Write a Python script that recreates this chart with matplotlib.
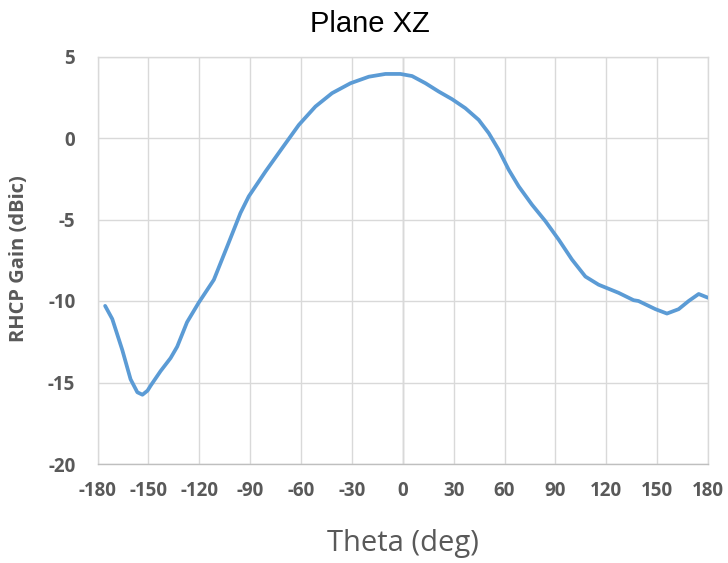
import matplotlib
matplotlib.use("Agg")
import matplotlib.pyplot as plt

plt.rcParams["axes.unicode_minus"] = False

theta = [-175.5, -171.3, -165.4, -160.5, -156.5, -153.5, -150.5, -148.7, -142.8,
         -136.9, -133.0, -127.2, -120.3, -111.4, -103.5, -95.7, -90.8, -80.9,
         -71.1, -61.3, -51.5, -41.7, -30.8, -20.0, -10.2, -1.4, 5.5, 13.4, 21.2,
         29.1, 36.9, 44.8, 50.7, 56.6, 62.5, 68.4, 76.2, 84.1, 92.0, 99.8, 107.7,
         115.5, 127.3, 136.1, 139.0, 143.0, 149.0, 155.8, 162.7, 168.6, 174.5, 180.0]
gain = [-10.3, -11.1, -13.0, -14.8, -15.6, -15.75, -15.5, -15.2, -14.3,
        -13.5, -12.8, -11.3, -10.1, -8.7, -6.65, -4.6, -3.58, -2.05,
        -0.62, 0.8, 1.93, 2.75, 3.36, 3.76, 3.93, 3.93, 3.8, 3.36, 2.85,
        2.38, 1.83, 1.11, 0.3, -0.73, -1.95, -2.97, -4.09, -5.1, -6.24, -7.46, -8.5,
        -9.0, -9.5, -9.95, -10.0, -10.2, -10.5, -10.77, -10.5, -10.0, -9.57, -9.8]

xticks = list(range(-180, 181, 30))
yticks = list(range(-20, 6, 5))

W, H = 728, 563
fig = plt.figure(figsize=(W / 100, H / 100), dpi=100)
ax = fig.add_axes([97.5 / W, 1 - 464 / H, (708 - 97.5) / W, (464 - 56.5) / H])

ax.plot(theta, gain, color="#5B9BD5", linewidth=2.7, solid_capstyle="round",
        solid_joinstyle="round", zorder=3)

ax.set_xlim(-180, 180)
ax.set_ylim(-20, 5)
ax.set_xticks(xticks)
ax.set_yticks(yticks)
ax.grid(True, color="#D9D9D9", linewidth=1.0, zorder=0)
ax.axvline(0, color="#BFBFBF", linewidth=1.0, zorder=1)
for s in ["left", "top", "right"]:
    ax.spines[s].set_color("#D9D9D9")
    ax.spines[s].set_linewidth(1.0)
ax.spines["bottom"].set_color("#BFBFBF")
ax.spines["bottom"].set_linewidth(1.0)
ax.tick_params(length=0, labelcolor="#595959")
ax.tick_params(axis="x", pad=12)
ax.tick_params(axis="y", pad=16)
for lab in ax.get_xticklabels() + ax.get_yticklabels():
    lab.set_fontfamily("Open Sans")
    lab.set_fontweight("bold")
    lab.set_fontsize(13.5)

fig.text(403 / W, 1 - 544 / H, "Theta (deg)", fontfamily="Open Sans",
         fontsize=21, color="#595959", ha="center", va="center")
fig.text(19 / W, 1 - 259 / H, "RHCP Gain (dBic)", fontfamily="Open Sans",
         fontweight="bold", fontsize=14.5, color="#595959", rotation=90,
         ha="center", va="center")
fig.text(370 / W, 1 - 24 / H, "Plane XZ",
         fontfamily="Liberation Sans", fontsize=21, color="black",
         ha="center", va="center")

fig.savefig("out.png", dpi=100)
